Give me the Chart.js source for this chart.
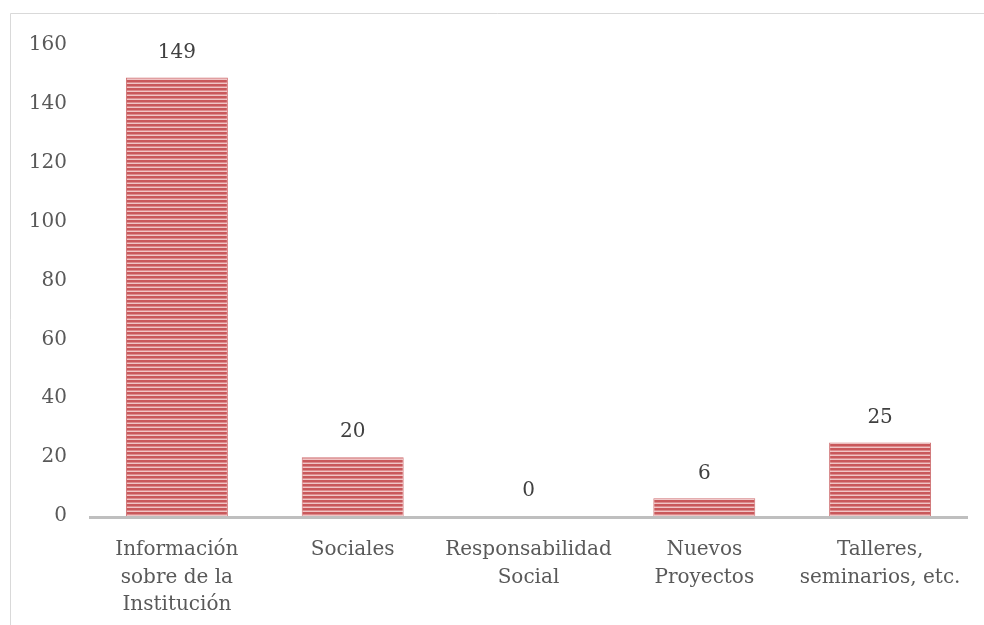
<!DOCTYPE html>
<html>
<head>
<meta charset="utf-8">
<script src="https://cdn.jsdelivr.net/npm/chart.js@4/dist/chart.umd.min.js"></script>
<style>
html,body{margin:0;padding:0;background:#fff;}
#wrap{width:984px;height:625px;position:relative;}
</style>
</head>
<body>
<div id="wrap"><canvas id="c" width="984" height="625"></canvas></div>
<script>
const categories = [
  ["Información", "sobre de la", "Institución"],
  ["Sociales"],
  ["Responsabilidad", "Social"],
  ["Nuevos", "Proyectos"],
  ["Talleres,", "seminarios, etc."]
];
const values = [149, 20, 0, 6, 25];
const yMin = 0, yMax = 160, yStep = 20;

const FONT = "'DejaVu Serif', serif";

function stripePattern() {
  const p = document.createElement('canvas');
  p.width = 4; p.height = 4;
  const g = p.getContext('2d');
  g.fillStyle = '#F0C4C5'; g.fillRect(0, 0, 4, 4);
  g.fillStyle = '#C9585B'; g.fillRect(0, 0, 4, 2);
  g.fillStyle = '#DC8A8C'; g.fillRect(0, 2, 4, 1);
  return document.getElementById('c').getContext('2d').createPattern(p, 'repeat');
}

const framePlugin = {
  id: 'frame',
  beforeDraw(chart) {
    const ctx = chart.ctx;
    ctx.save();
    ctx.fillStyle = '#fff';
    ctx.fillRect(0, 0, chart.width, chart.height);
    ctx.strokeStyle = '#D9D9D9';
    ctx.lineWidth = 1;
    ctx.beginPath();
    ctx.moveTo(10.5, chart.height + 2);
    ctx.lineTo(10.5, 13.5);
    ctx.lineTo(chart.width + 2, 13.5);
    ctx.stroke();
    ctx.restore();
  }
};

const axisLinePlugin = {
  id: 'axisLine',
  afterDatasetsDraw(chart) {
    const ctx = chart.ctx;
    const y = chart.scales.y.getPixelForValue(0);
    const a = chart.chartArea;
    ctx.save();
    ctx.strokeStyle = '#BFBFBF';
    ctx.lineWidth = 3;
    ctx.beginPath();
    ctx.moveTo(a.left, y + 1.5);
    ctx.lineTo(a.right, y + 1.5);
    ctx.stroke();
    ctx.restore();
  }
};

const labelPlugin = {
  id: 'dataLabels',
  afterDatasetsDraw(chart) {
    const ctx = chart.ctx;
    const meta = chart.getDatasetMeta(0);
    ctx.save();
    ctx.font = '20px ' + FONT;
    ctx.fillStyle = '#404040';
    ctx.textAlign = 'center';
    ctx.textBaseline = 'middle';
    meta.data.forEach((bar, i) => {
      ctx.fillText(String(values[i]), bar.x, bar.y - 25);
    });
    ctx.restore();
  }
};

new Chart(document.getElementById('c'), {
  type: 'bar',
  data: {
    labels: categories,
    datasets: [{
      data: values,
      backgroundColor: stripePattern(),
      borderColor: '#CF6F71',
      borderWidth: 1,
      borderSkipped: 'bottom',
      barPercentage: 0.58,
      categoryPercentage: 1.0
    }]
  },
  options: {
    responsive: false,
    animation: false,
    devicePixelRatio: 1,
    layout: { padding: { top: 45, right: 16, bottom: 0, left: 0 } },
    plugins: { legend: { display: false }, tooltip: { enabled: false } },
    scales: {
      x: {
        grid: { display: false, drawTicks: false },
        border: { display: false },
        ticks: {
          color: '#595959',
          font: { family: FONT, size: 20, lineHeight: 1.38 },
          padding: 20,
          maxRotation: 0,
          autoSkip: false
        },
        afterFit(scale) { scale.height = 109; }
      },
      y: {
        min: yMin, max: yMax,
        grid: { display: false, drawTicks: false },
        border: { display: false },
        ticks: {
          stepSize: yStep,
          color: '#595959',
          font: { family: FONT, size: 20 },
          padding: 22
        },
        afterFit(scale) { scale.width = 89; }
      }
    }
  },
  plugins: [framePlugin, axisLinePlugin, labelPlugin]
});
</script>
</body>
</html>
